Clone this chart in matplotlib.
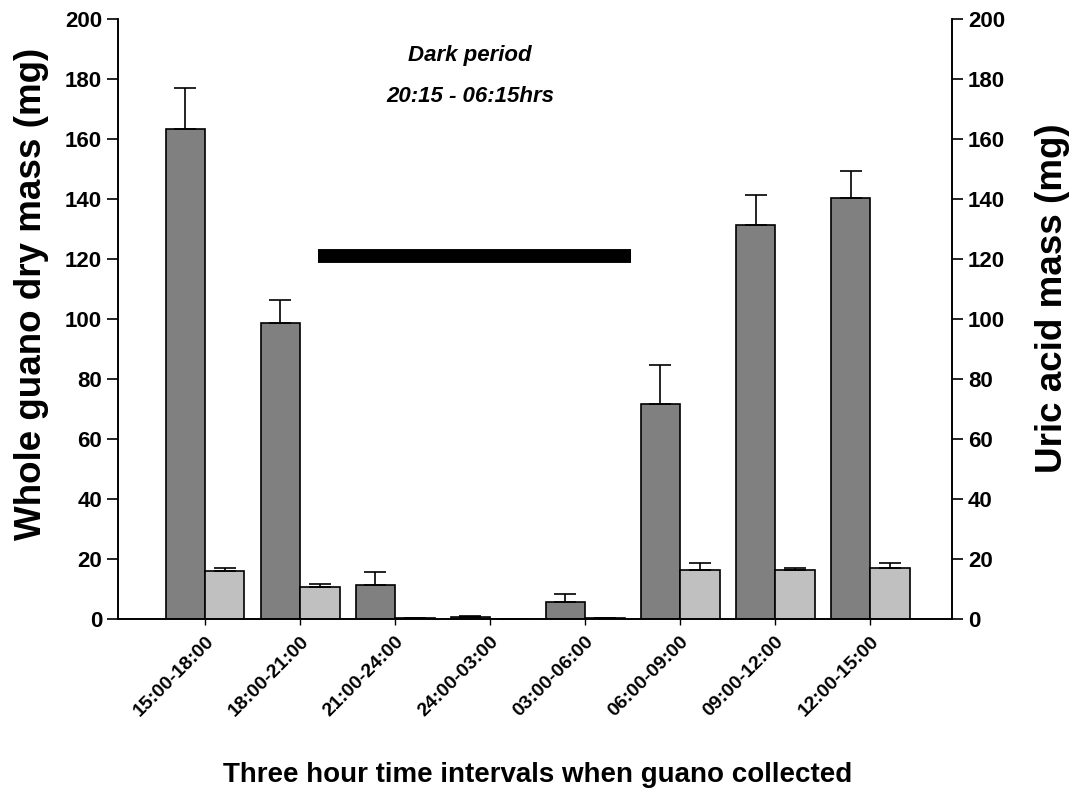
import matplotlib.pyplot as plt
import numpy as np

plt.rcParams['font.family'] = ['Liberation Sans', 'DejaVu Sans']
plt.rcParams['font.weight'] = 'bold'

intervals = ['15:00-18:00', '18:00-21:00', '21:00-24:00', '24:00-03:00',
             '03:00-06:00', '06:00-09:00', '09:00-12:00', '12:00-15:00']
guano_mean = [163.5, 98.8, 11.3, 0.8, 5.8, 71.6, 131.5, 140.3]
guano_se = [13.5, 7.5, 4.5, 0.3, 2.4, 13.0, 10.0, 9.0]
uric_mean = [16.0, 10.7, 0.5, 0.0, 0.5, 16.3, 16.4, 17.0]
uric_se = [1.0, 1.1, 0.0, 0.0, 0.0, 2.5, 0.5, 1.8]

dark_start, dark_end, dark_level = 1.19, 4.48, 121

fig = plt.figure(figsize=(10.79, 7.92), dpi=100)
ax = fig.add_axes([118 / 1079, 173 / 792, 834 / 1079, 600 / 792])
ax2 = ax.twinx()

x = np.arange(len(intervals))
w = 0.415
ax.bar(x - w / 2, guano_mean, w, color='#808080', edgecolor='black', linewidth=1.2,
       yerr=[np.zeros(len(x)), guano_se], error_kw=dict(ecolor='black', elinewidth=1.2, capsize=8, capthick=1.2),
       zorder=3)
ax.bar(x + w / 2, uric_mean, w, color='#c0c0c0', edgecolor='black', linewidth=1.2,
       yerr=[np.zeros(len(x)), uric_se], error_kw=dict(ecolor='black', elinewidth=1.2, capsize=8, capthick=1.2),
       zorder=3)

# dark period bar
ax.plot([dark_start, dark_end], [dark_level, dark_level], color='black', linewidth=10,
        solid_capstyle='butt', zorder=4)
ax.text(2.79, 188, 'Dark period', ha='center', va='center', fontsize=16, style='italic', fontweight='bold')
ax.text(2.79, 174, '20:15 - 06:15hrs', ha='center', va='center', fontsize=16, style='italic', fontweight='bold')

ax.set_xlim(-0.916, 7.86)
ax.set_ylim(0, 200)
ax2.set_ylim(0, 200)
ax.set_yticks(range(0, 201, 20))
ax2.set_yticks(range(0, 201, 20))
ax.set_xticks(x)
ax.set_xticklabels(intervals, rotation=45, ha='right', rotation_mode='anchor', fontsize=14, fontweight='bold')

for a in (ax, ax2):
    a.spines['top'].set_visible(False)
    a.tick_params(axis='y', direction='out', length=8, width=1.2, labelsize=16)
    for s in a.spines.values():
        s.set_linewidth(1.2)
ax.tick_params(axis='x', direction='out', length=4, width=1, pad=6)
for lbl in ax.get_yticklabels() + ax2.get_yticklabels():
    lbl.set_fontweight('bold')

ax.set_ylabel('Whole guano dry mass (mg)', fontsize=26.5, fontweight='bold')
ax.yaxis.set_label_coords(-0.083, 0.542)
ax2.set_ylabel('Uric acid mass (mg)', fontsize=26.5, fontweight='bold', rotation=90)
ax2.yaxis.set_label_coords(1.10, 0.535)
fig.text(538 / 1079, 1 - 775 / 792, 'Three hour time intervals when guano collected',
         ha='center', va='center', fontsize=20, fontweight='bold')

fig.savefig('out.png', dpi=100)
